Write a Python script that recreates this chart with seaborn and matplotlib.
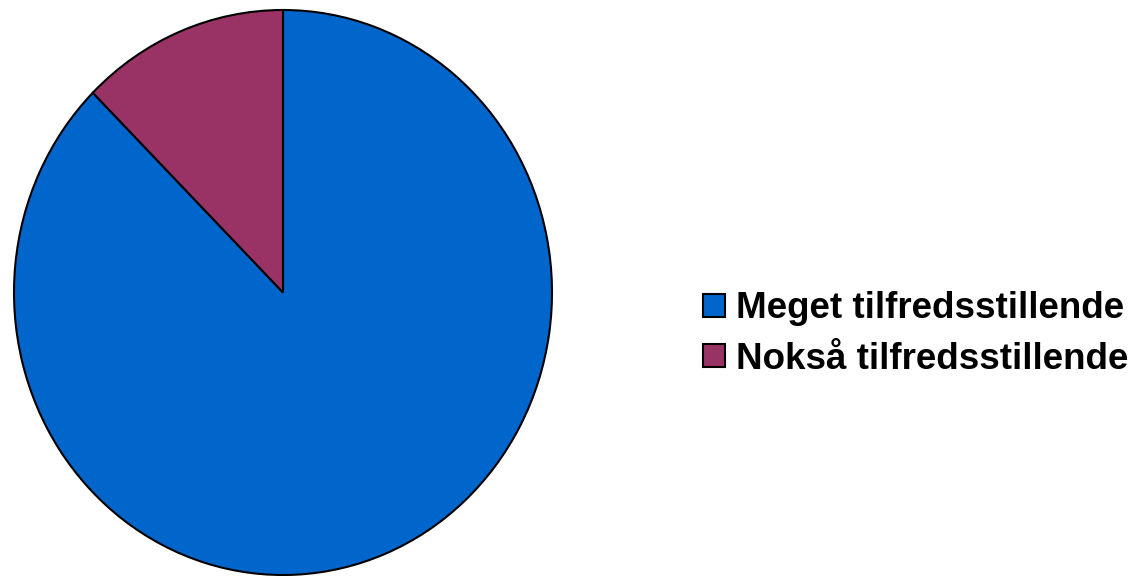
import matplotlib
matplotlib.use("Agg")
import matplotlib.pyplot as plt
import seaborn as sns

# --- Data ---
labels = ["Meget tilfredsstillende", "Nokså tilfredsstillende"]
shares = [87.5, 12.5]
colors = ["#0066CC", "#993366"]

sns.set_theme(style="white")
plt.rcParams["font.family"] = ["Liberation Sans", "DejaVu Sans"]
plt.rcParams["text.color"] = "black"

W, H = 1141, 579
fig = plt.figure(figsize=(W / 100, H / 100), dpi=100)

# pie is slightly stretched vertically in the reference, so aspect is left free
ax = fig.add_axes([14 / W, 4 / H, 538 / W, 565 / H])
wedges, _ = ax.pie(
    shares, colors=colors, startangle=90, counterclock=False,
    wedgeprops=dict(edgecolor="black", linewidth=1.5),
)
ax.set_xlim(-1, 1)
ax.set_ylim(-1, 1)
ax.set_aspect("auto")
ax.axis("off")

leg = fig.legend(
    wedges, labels, loc="center left",
    bbox_to_anchor=(703 / W, 1 - 334 / H),
    frameon=False, borderpad=0, borderaxespad=0,
    handlelength=0.6, handleheight=0.6, handletextpad=0.3,
    labelspacing=0.42,
    prop=dict(family=["Liberation Sans", "DejaVu Sans"], weight="bold", size=26.5),
)
for t in leg.get_texts():
    t.set_color("black")

fig.savefig("out.png", dpi=100, facecolor="white")
